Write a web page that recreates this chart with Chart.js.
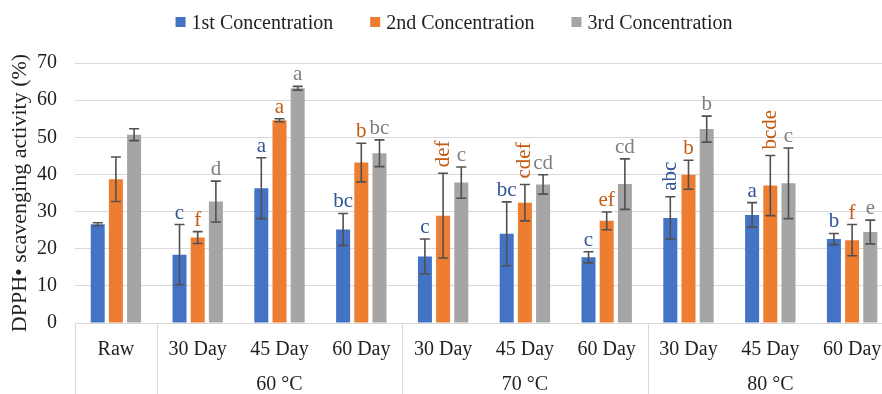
<!DOCTYPE html>
<html>
<head>
<meta charset="utf-8">
<script src="https://cdn.jsdelivr.net/npm/chart.js@4.4.1/dist/chart.umd.min.js"></script>
<style>
  html, body { margin: 0; padding: 0; background: #fff; overflow: hidden; }
  #wrap { width: 900px; height: 394px; }
</style>
</head>
<body>
<div id="wrap"><canvas id="dpphChart" width="900" height="394"></canvas></div>
<script>
/// data ///
const categories = ['Raw', '30 Day', '45 Day', '60 Day', '30 Day', '45 Day', '60 Day', '30 Day', '45 Day', '60 Day'];
const groupNames = ['60 °C', '70 °C', '80 °C'];
const groupStart = [1, 4, 7];   // first category of each temperature group
const groupSize = 3;

const seriesNames = ['1st Concentration', '2nd Concentration', '3rd Concentration'];
const conc1 = [26.6, 18.4, 36.3, 25.2, 17.9, 24.0, 17.7, 28.3, 29.1, 22.6];
const conc2 = [38.7, 23.0, 54.6, 43.2, 28.9, 32.4, 27.5, 39.9, 37.0, 22.3];
const conc3 = [50.7, 32.7, 63.2, 45.7, 37.8, 37.3, 37.4, 52.2, 37.6, 24.5];
const err1 = [0.4, 8.1, 8.2, 4.3, 4.7, 8.6, 1.5, 5.7, 3.3, 1.5];
const err2 = [6.0, 1.6, 0.4, 5.2, 11.4, 4.9, 2.4, 3.9, 8.1, 4.2];
const err3 = [1.6, 5.5, 0.5, 3.6, 4.2, 2.6, 6.8, 3.5, 9.5, 3.2];
const letters1 = ['', 'c', 'a', 'bc', 'c', 'bc', 'c', 'abc', 'a', 'b'];
const letters2 = ['', 'f', 'a', 'b', 'def', 'cdef', 'ef', 'b', 'bcde', 'f'];
const letters3 = ['', 'd', 'a', 'bc', 'c', 'cd', 'cd', 'b', 'c', 'e'];

const yTitle = 'DPPH\u2022 scavenging activity (%)';
const yMin = 0, yMax = 70, yStep = 10;

/// style ///
const FONT = '"Liberation Serif", "Times New Roman", serif';
const TXT = '#1f1f1f';
const GRID = '#d9d9d9';
const barColors = ['#4472C4', '#ED7D31', '#A5A5A5'];
const letterColors = ['#2F5597', '#C55A11', '#7F7F7F'];

// error bars
const errorBars = {
  id: 'errorBars',
  afterDatasetsDraw(chart) {
    const c = chart.ctx;
    const ys = chart.scales.y;
    c.save();
    c.strokeStyle = '#505050';
    c.lineWidth = 1.6;
    chart.data.datasets.forEach((ds, i) => {
      chart.getDatasetMeta(i).data.forEach((bar, j) => {
        const v = ds.data[j], e = ds.errors[j];
        const top = ys.getPixelForValue(v + e);
        const bot = ys.getPixelForValue(v - e);
        c.beginPath();
        c.moveTo(bar.x, top); c.lineTo(bar.x, bot);
        c.moveTo(bar.x - 5, top); c.lineTo(bar.x + 5, top);
        c.moveTo(bar.x - 5, bot); c.lineTo(bar.x + 5, bot);
        c.stroke();
      });
    });
    c.restore();
  }
};

// significance letters
const sigLetters = {
  id: 'sigLetters',
  afterDatasetsDraw(chart) {
    const c = chart.ctx;
    const ys = chart.scales.y;
    c.save();
    c.font = '21px ' + FONT;
    chart.data.datasets.forEach((ds, i) => {
      c.fillStyle = letterColors[i];
      chart.getDatasetMeta(i).data.forEach((bar, j) => {
        const t = ds.letters[j];
        if (!t) return;
        const top = ys.getPixelForValue(ds.data[j] + ds.errors[j]) - 6;
        if (t.length >= 3) {
          c.save();
          c.translate(bar.x, top);
          c.rotate(-Math.PI / 2);
          c.textAlign = 'left';
          c.textBaseline = 'middle';
          c.fillText(t, 0, 0);
          c.restore();
        } else {
          c.textAlign = 'center';
          c.textBaseline = 'alphabetic';
          c.fillText(t, bar.x, top);
        }
      });
    });
    c.restore();
  }
};

// second axis row: group separators + temperature labels
const groupAxis = {
  id: 'groupAxis',
  afterDraw(chart) {
    const c = chart.ctx;
    const xs = chart.scales.x;
    const y0 = chart.chartArea.bottom;
    const y1 = chart.height;
    const mid = (a, b) => (xs.getPixelForValue(a) + xs.getPixelForValue(b)) / 2;
    const lines = [xs.left, xs.right];
    groupStart.forEach(g => lines.push(mid(g - 1, g)));
    c.save();
    c.strokeStyle = GRID;
    c.lineWidth = 1;
    lines.forEach(x => {
      c.beginPath();
      c.moveTo(Math.round(x) + 0.5, y0);
      c.lineTo(Math.round(x) + 0.5, y1);
      c.stroke();
    });
    c.font = '20px ' + FONT;
    c.fillStyle = TXT;
    c.textAlign = 'center';
    c.textBaseline = 'alphabetic';
    groupNames.forEach((name, k) => {
      const x = mid(groupStart[k], groupStart[k] + groupSize - 1);
      c.fillText(name, x, 390);
    });
    c.restore();
  }
};

// legend on top
const topLegend = {
  id: 'topLegend',
  afterDraw(chart) {
    const c = chart.ctx;
    c.save();
    c.font = '20px ' + FONT;
    const box = 10, textGap = 6, gap = 37;
    const items = chart.data.datasets.map(d => ({ label: d.label, color: d.backgroundColor, w: c.measureText(d.label).width }));
    const total = items.reduce((s, it) => s + box + textGap + it.w, 0) + gap * (items.length - 1);
    let x = 454 - total / 2;
    c.textBaseline = 'alphabetic';
    c.textAlign = 'left';
    items.forEach(it => {
      c.fillStyle = it.color;
      c.fillRect(x, 17, box, box);
      c.fillStyle = TXT;
      c.fillText(it.label, x + box + textGap, 28.5);
      x += box + textGap + it.w + gap;
    });
    c.restore();
  }
};

const ctx = document.getElementById('dpphChart').getContext('2d');
const dpphChart = new Chart(ctx, {
  type: 'bar',
  data: {
    labels: categories,
    datasets: [
      { label: seriesNames[0], data: conc1, errors: err1, letters: letters1, backgroundColor: barColors[0] },
      { label: seriesNames[1], data: conc2, errors: err2, letters: letters2, backgroundColor: barColors[1] },
      { label: seriesNames[2], data: conc3, errors: err3, letters: letters3, backgroundColor: barColors[2] }
    ]
  },
  options: {
    responsive: false,
    animation: false,
    categoryPercentage: 0.667,
    barPercentage: 0.77,
    layout: { padding: { top: 63, right: 7, left: 0, bottom: 0 } },
    plugins: {
      legend: { display: false },
      tooltip: { enabled: false }
    },
    scales: {
      x: {
        grid: { display: false, drawTicks: false },
        border: { display: true, color: GRID, width: 1 },
        ticks: { color: TXT, font: { family: FONT, size: 20 }, padding: 15, maxRotation: 0, autoSkip: false },
        afterFit(scale) { scale.height = 71; }
      },
      y: {
        min: yMin,
        max: yMax,
        ticks: { stepSize: yStep, color: TXT, font: { family: FONT, size: 20 }, padding: 18 },
        grid: { color: GRID, lineWidth: 1, drawTicks: false },
        border: { display: false },
        title: { display: true, text: yTitle, color: TXT, font: { family: FONT, size: 22 }, padding: { top: 7, bottom: 0 } },
        afterFit(scale) { scale.width = 75; }
      }
    }
  },
  plugins: [errorBars, sigLetters, groupAxis, topLegend]
});
</script>
</body>
</html>
